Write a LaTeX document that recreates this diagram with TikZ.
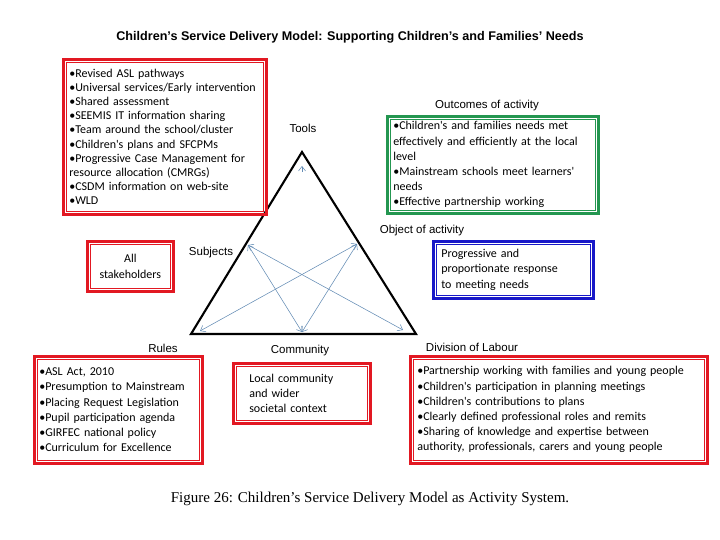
\documentclass[tikz,border=0pt]{standalone}
\usepackage{fontspec}
\setmainfont{Liberation Serif}
\setsansfont{Liberation Sans}
\newfontfamily\boxfont{Carlito}
\usepackage{tikz}
\usetikzlibrary{arrows,arrows.meta}
\usetikzlibrary{positioning}
\definecolor{boxred}{RGB}{226,24,34}
\definecolor{boxgreen}{RGB}{36,150,80}
\definecolor{boxblue}{RGB}{24,24,200}
\definecolor{arrowblue}{RGB}{100,140,180}
\newcommand{\innerframe}[2]{\draw[#2,line width=1pt] ([xshift=4.3pt,yshift=-4.3pt]#1.north west) rectangle ([xshift=-4.3pt,yshift=4.3pt]#1.south east);}

\begin{document}
\begin{tikzpicture}[x=1pt,y=-1pt,>={Straight Barb[length=4.5pt,width=7pt]},
    item box/.style={draw=#1,line width=2.6pt,anchor=north west,inner ysep=0pt,align=left,font=\boxfont\fontsize{12}{15.2}\selectfont},
    head text/.style={font=\sffamily\fontsize{11.5}{13}\selectfont,inner sep=0pt},
    tri line/.style={line width=2.1pt,line join=miter},
    arrow line/.style={arrowblue,line width=0.55pt}]
   \useasboundingbox (0,0) rectangle (720,540);
   % title and caption
   \node[font=\sffamily\bfseries\fontsize{12.6}{14}\selectfont] (title) at (350,37) {Children's Service Delivery Model: Supporting Children's and Families' Needs};
   \node[font=\rmfamily\fontsize{15}{17}\selectfont] (caption) at (370,499) {Figure 26: Children's Service Delivery Model as Activity System.};
   % the triangle
   \coordinate (apex) at (302,152);
   \coordinate (bl) at (191,334);
   \coordinate (br) at (416,334);
   \draw[tri line] (apex) -- (bl) -- (br) -- cycle;
   % ends of the arrows
   \coordinate (subj end) at (248,245);
   \coordinate (obj end) at (357,244);
   \coordinate (comm end) at (302,332);
   \coordinate (bl end) at (200,331);
   \coordinate (br end) at (403,330);
   \coordinate (top start) at (302,172);
   \coordinate (top end) at (302,166);
   \path[<->,arrow line] (subj end) edge (br end);
   \path[<->,arrow line] (obj end) edge (bl end);
   \path[<->,arrow line] (subj end) edge (comm end);
   \path[<->,arrow line] (obj end) edge (comm end);
   \path[->,arrow line] (top start) edge (top end);
   % labels of the corners
   \node[head text] (tools label) at (303,128) {Tools};
   \node[head text] (outcome label) at (487,106) {Outcomes of activity};
   \node[head text] (object label) at (422,231) {Object of activity};
   \node[head text] (subject label) at (211,253) {Subjects};
   \node[head text] (rules label) at (163,348) {Rules};
   \node[head text] (community label) at (300,351) {Community};
   \node[head text] (labour label) at (472,347) {Division of Labour};
   % boxes
   \node[item box=boxred,font=\boxfont\fontsize{12}{14.1}\selectfont,inner xsep=6pt,text width=191pt,minimum height=155pt] (tools) at (62,58)
     {\textbullet Revised ASL pathways\\
      \textbullet Universal services/Early intervention\\
      \textbullet Shared assessment\\
      \textbullet SEEMIS IT information sharing\\
      \textbullet Team around the school/cluster\\
      \textbullet Children's plans and SFCPMs\\
      \textbullet Progressive Case Management for\\
      resource allocation (CMRGs)\\
      \textbullet CSDM information on web-site\\
      \textbullet WLD};
   \innerframe{tools}{boxred}
   \node[item box=boxgreen,inner xsep=6pt,text width=199pt,minimum height=97pt] (outcomes) at (386,115)
     {\textbullet Children's and families needs met\\
      effectively and efficiently at the local\\
      level\\
      \textbullet Mainstream schools meet learners'\\
      needs\\
      \textbullet Effective partnership working};
   \innerframe{outcomes}{boxgreen}
   \node[item box=boxblue,inner xsep=8pt,text width=144pt,minimum height=57pt] (object) at (432,240)
     {Progressive and\\
      proportionate response\\
      to meeting needs};
   \innerframe{object}{boxblue}
   \node[item box=boxred,align=center,inner xsep=4pt,text width=78pt,minimum height=50pt] (stakeholders) at (86,240)
     {All\\stakeholders};
   \innerframe{stakeholders}{boxred}
   \node[item box=boxred,inner xsep=5pt,text width=158pt,minimum height=107pt] (rules) at (33,355)
     {\textbullet ASL Act, 2010\\
      \textbullet Presumption to Mainstream\\
      \textbullet Placing Request Legislation\\
      \textbullet Pupil participation agenda\\
      \textbullet GIRFEC national policy\\
      \textbullet Curriculum for Excellence};
   \innerframe{rules}{boxred}
   \node[item box=boxred,inner xsep=16pt,text width=105pt,minimum height=60pt] (community) at (232,362)
     {Local community\\
      and wider\\
      societal context};
   \innerframe{community}{boxred}
   \node[item box=boxred,inner xsep=7pt,text width=283pt,minimum height=107pt] (labour) at (409,355)
     {\textbullet Partnership working with families and young people\\
      \textbullet Children's participation in planning meetings\\
      \textbullet Children's contributions to plans\\
      \textbullet Clearly defined professional roles and remits\\
      \textbullet Sharing of knowledge and expertise between\\
      authority, professionals, carers and young people};
   \innerframe{labour}{boxred}
\end{tikzpicture}
\end{document}
